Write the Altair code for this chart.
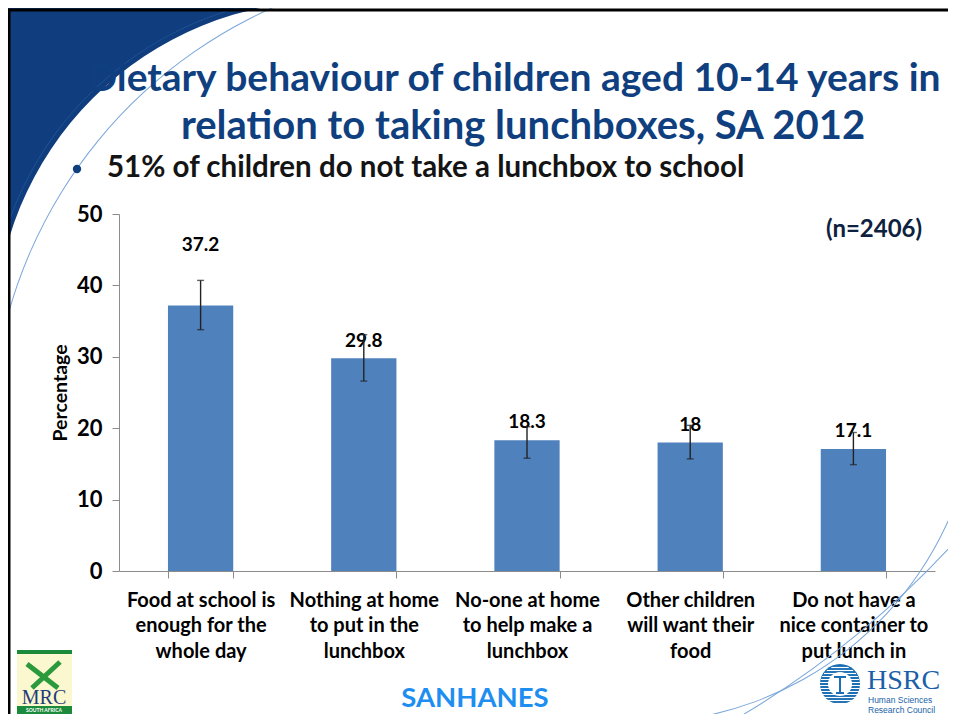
import math
import altair as alt
import pandas as pd

# ---------------- data ----------------
categories = [
    "Food at school is|enough for the|whole day",
    "Nothing at home|to put in the|lunchbox",
    "No-one at home|to help make a|lunchbox",
    "Other children|will want their|food",
    "Do not have a|nice container to|put lunch in",
]
values = [37.2, 29.8, 18.3, 18.0, 17.1]
value_text = ["37.2", "29.8", "18.3", "18", "17.1"]
ci_low = [33.8, 26.6, 15.8, 15.7, 14.9]
ci_high = [40.7, 33.1, 20.2, 20.4, 19.4]
label_pos = [45.7, 32.2, 20.8, 20.4, 19.6]
y_ticks = [0, 10, 20, 30, 40, 50]

title_lines = ["Dietary behaviour of children aged 10-14 years in",
               "relation to taking  lunchboxes, SA 2012"]
bullet_text = "51% of children do not take a lunchbox to school"
n_text = "(n=2406)"
source_text = "SANHANES"
y_title = "Percentage"
mrc_text = "MRC"
mrc_sub = "SOUTH AFRICA"
hsrc_text = "HSRC"
hsrc_sub = ["Human Sciences", "Research Council"]

# ---------------- style ----------------
FONT = "Lato"
NAVY = "#103f80"
BAR = "#4f81bd"
W, H = 816, 357
PAD_L, PAD_T = 111, 206

df = pd.DataFrame({"cat": categories, "value": values, "text": value_text,
                   "lo": ci_low, "hi": ci_high, "lpos": label_pos})

one = alt.Data(values=[{"d": 0}])

x_enc = alt.X("cat:N", sort=categories,
              scale=alt.Scale(paddingInner=0.6, paddingOuter=0.3),
              axis=alt.Axis(title=None, labelExpr="split(datum.label, '|')",
                            labelAngle=0, tickBand="extent", tickSize=7,
                            labelFontSize=20, labelLineHeight=25.5,
                            labelPadding=12, labelLimit=400))
y_scale = alt.Scale(domain=[0, 50], nice=False)
y_axis = alt.Axis(values=y_ticks, title=y_title, tickSize=7, labelPadding=10,
                  labelFontSize=22, titleFontSize=19.5, titlePadding=6)


def Y(field):
    return alt.Y(field, scale=y_scale, axis=y_axis)


base = alt.Chart(df)
bars = base.mark_bar(color=BAR).encode(x=x_enc, y=Y("value:Q"))
labels = base.mark_text(font=FONT, fontWeight="bold", fontSize=19,
                        baseline="middle", color="#000").encode(
    x=x_enc, y=Y("lpos:Q"), text="text:N")
err = base.mark_rule(color="#222222", strokeWidth=1.4).encode(
    x=x_enc, y=Y("lo:Q"), y2="hi:Q")
cap_lo = base.mark_tick(color="#222222", size=7, thickness=1.4).encode(
    x=x_enc, y=Y("lo:Q"))
cap_hi = base.mark_tick(color="#222222", size=7, thickness=1.4).encode(
    x=x_enc, y=Y("hi:Q"))


def P(px, py):
    """page coords -> plot coords"""
    return px - 8 - PAD_L, py - 8 - PAD_T


def ring(cx, cy, r_out, r_in, t0, t1, color):
    x, y = P(cx, cy)
    return alt.Chart(one).mark_arc(radius=r_out, radius2=r_in, theta=t0,
                                   theta2=t1, color=color).encode(
        x=alt.value(x), y=alt.value(y))


def text(s, px, py, size, color, align="center", baseline="alphabetic",
         weight="bold", font=FONT):
    x, y = P(px, py)
    return alt.Chart(one).mark_text(text=s, fontSize=size, color=color,
                                    align=align, baseline=baseline,
                                    fontWeight=weight, font=font).encode(
        x=alt.value(x), y=alt.value(y))


def seg(x1, y1, x2, y2, color, w):
    a, b = P(x1, y1)
    c, d = P(x2, y2)
    return alt.Chart(one).mark_rule(color=color, strokeWidth=w).encode(
        x=alt.value(a), y=alt.value(b), x2=alt.value(c), y2=alt.value(d))


def rect(x1, y1, x2, y2, color):
    a, b = P(x1, y1)
    c, d = P(x2, y2)
    return alt.Chart(one).mark_rect(color=color).encode(
        x=alt.value(a), y=alt.value(b), x2=alt.value(c), y2=alt.value(d))


deco = [
    # slide swoosh top-left
    ring(328, 334, 600, 333, 4.71, 6.29, "#0f3d7e"),
    ring(328, 334, 338.8, 337.8, 4.9, 6.1, "#1f4f93"),
    ring(465, 441, 474.6, 473.6, 4.85, 5.95, "#7aa6da"),
    # bottom-right lines
    ring(636, 381, 342.6, 341.6, 1.85, 3.1, "#7aa6da"),
    ring(260, -93, 941.6, 940.6, 2.2, 2.7, "#7aa6da"),
    # slide border
    seg(8, 10, 956, 10, "#000", 3),
    seg(9, 10, 9, 722, "#000", 3),
]

titles = [
    text(title_lines[0], 514, 91, 39, NAVY),
    text(title_lines[1], 523, 139, 40, NAVY),
    text(bullet_text, 107, 177, 29.5, "#141414", align="left"),
    text(n_text, 874, 230, 24, "#0e2240", baseline="middle"),
    text(source_text, 475, 699, 27.5, "#1f8ef1", baseline="middle"),
]
bx, by = P(77, 169)
bullet = alt.Chart(one).mark_point(filled=True, size=70, shape="circle",
                                   color=NAVY, opacity=1).encode(
    x=alt.value(bx), y=alt.value(by))

# MRC logo
mrc = [
    rect(17, 654, 72, 706, "#fbf8cf"),
    rect(17, 650, 72, 654, "#1b8a3a"),
    rect(17, 706, 72, 714, "#1b8a3a"),
    seg(27, 664, 58, 688, "#2a9a3c", 5),
    seg(60, 662, 32, 688, "#2a9a3c", 5),
    text(mrc_text, 44, 704, 20, "#1f3c7a", weight="normal",
         font="Liberation Serif"),
    text(mrc_sub, 44, 710, 5, "#ffffff", baseline="middle"),
]

# HSRC logo
hcx, hcy, hr = 840, 684, 20
stripes = []
for k in range(-6, 7):
    dy = k * 3
    dx = math.sqrt(max(hr * hr - dy * dy, 0))
    stripes.append(seg(hcx - dx, hcy + dy + 1.5, hcx + dx, hcy + dy + 1.5,
                       "#ffffff", 1.1))
hsrc = [ring(hcx, hcy, hr, 0, 0, 6.2832, "#1d6fb3")] + stripes + [
    ring(hcx, hcy, 12, 0, 0, 6.2832, "#ffffff"),
    seg(834, 677, 846, 677, "#1d6fb3", 2),
    seg(840, 677, 840, 693, "#1d6fb3", 2),
    seg(836, 693, 844, 693, "#1d6fb3", 2),
    text(hsrc_text, 867, 689, 28, "#1a5fa8", align="left", weight="normal",
         font="Liberation Serif"),
    text(hsrc_sub[0], 868, 703, 8.5, "#1a5fa8", align="left",
         weight="normal", font="Liberation Sans"),
    text(hsrc_sub[1], 868, 712.5, 8.5, "#1a5fa8", align="left",
         weight="normal", font="Liberation Sans"),
]

chart = alt.layer(
    *deco, *titles, bullet, *mrc, *hsrc, bars, labels, err, cap_lo, cap_hi
).properties(
    width=W, height=H,
    autosize=alt.AutoSizeParams(type="none"),
    padding={"left": PAD_L, "top": PAD_T, "right": 940 - PAD_L - W,
             "bottom": 706 - PAD_T - H},
).configure_view(stroke=None).configure_axis(
    domainColor="#8c8c8c", tickColor="#8c8c8c", grid=False,
    labelFont=FONT, labelFontWeight="bold", labelColor="#000",
    titleFont=FONT, titleFontWeight="bold", titleColor="#000",
)

chart.save("out.html", embed_options={"renderer": "svg", "actions": False})
